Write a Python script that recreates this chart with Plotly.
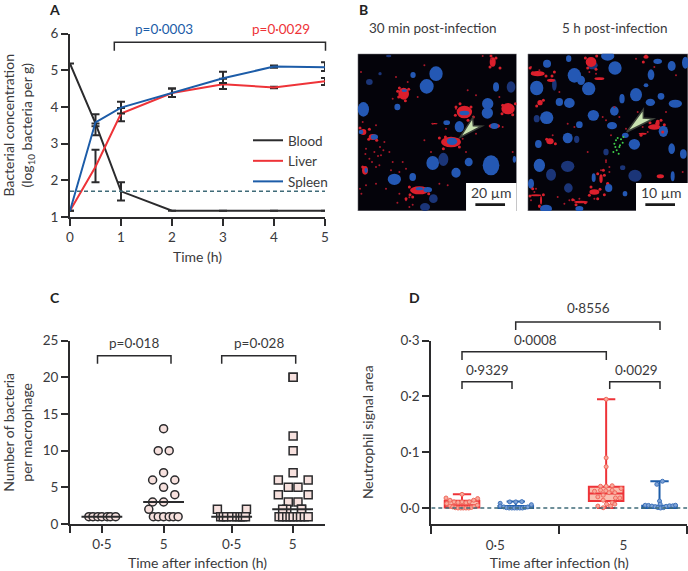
import plotly.graph_objects as go

W, H = 688, 571
FONT = "Lato"
INK = "#2b2b2d"
TXT = "#3a3a3c"
RED = "#ee3338"
BLUE = "#1c5ca8"
DASH = "#3f6b78"

# ---- Panel A
a_time = [0, 0.5, 1, 2, 3, 4, 5]
blood = [5.18, 3.55, 1.7, 1.17, 1.17, 1.17, 1.17]
blood_up = [0, 0, 0.25, 0, 0, 0, 0]
blood_dn = [0, 0.08, 0.25, 0, 0, 0, 0]
liver = [1.17, 2.37, 3.82, 4.38, 4.62, 4.53, 4.7]
liver_up = [0, 0.46, 0.15, 0.12, 0.15, 0.02, 0.09]
liver_dn = [0, 0.42, 0.21, 0.11, 0.13, 0.02, 0.1]
spleen = [1.17, 3.58, 3.98, 4.38, 4.78, 5.1, 5.08]
spleen_up = [0, 0.22, 0.16, 0.12, 0.18, 0.03, 0.14]
spleen_dn = [0, 0.35, 0.16, 0.11, 0.13, 0.03, 0.1]
a_limit = 1.7

# ---- Panel C (swarm offset, value)
c_ticks = [0.125, 0.367, 0.634, 0.873]
c_labels = ["0·5", "5", "0·5", "5"]
c1_dx = [-0.051, -0.035, -0.016, 0.0, 0.021, 0.033, 0.054]
c1_y = [1, 1, 1, 1, 1, 1, 1]
c2_dx = [0, -0.021, 0.022, 0, -0.043, 0.044, 0, 0.044, -0.043, 0, -0.058, -0.04, -0.021, 0, 0.022, 0.038, 0.057]
c2_y = [13, 10, 10, 7, 6, 6, 5, 4, 3, 3, 2, 1, 1, 1, 1, 1, 1]
c3_dx = [-0.056, 0.058, -0.043, -0.033, -0.02, 0, 0.02, 0.033, 0.043, 0.054]
c3_y = [2, 2, 1, 1, 1, 1, 1, 1, 1, 1]
c4_dx = [0.002, 0.002, 0.002, 0.002, 0.002, -0.056, 0.061, -0.017, 0.021, -0.056, 0.061, -0.017, 0.021,
         -0.023, 0.035, -0.039, 0.035, -0.053, -0.039, -0.023, -0.01, 0.002, 0.018, 0.031, 0.046, 0.061]
c4_y = [20, 20, 12, 10, 7, 6, 6, 5, 5, 4, 4, 3, 3, 2, 2, 2, 2, 1, 1, 1, 1, 1, 1, 1, 1, 1]
c_medians = [1, 3, 1, 2]

# ---- Panel D
d_centers = [0.24, 0.66, 1.366, 1.783]
d_q1 = [0.001, 0.0, 0.0125, 0.0]
d_median = [0.005, 0.002, 0.026, 0.0025]
d_q3 = [0.013, 0.0035, 0.038, 0.004]
d_low = [0.0, 0.0, 0.0, 0.0]
d_high = [0.0245, 0.0115, 0.195, 0.048]
d1_dx = [-.125, -.094, -.0625, -.031, 0, 0, .031, .057, .091, .122, -.12, -.094, -.073, -.052, -.031, -.01, .01, .031, .052, .073, .094, .12]
d1_y = [.018, .014, .011, .010, .0245, .011, .0095, .011, .014, .017, .008, .0035, .002, .0006, 0, 0, 0, 0, 0, .001, .0024, .005]
d2_dx = [-.122, -.122, -.047, 0, .047, -.094, -.073, -.052, -.031, -.01, .01, .031, .052, .073, .094, .12, .122]
d2_y = [.0085, .0035, .011, .011, .0115, .002, .0006, 0, 0, 0, 0, 0, 0, .001, .002, .0035, .006]
d3_dx = [0, 0, 0, -.044, 0, .047, -.091, -.044, -.003, .047, .117, -.065, -.023, .023, .068, .107, -.023, .073, .047, .068, .003, -.065, .034, -.023]
d3_y = [.195, .09, .074, .039, .039, .04, .03, .032, .031, .032, .035, .02, .023, .0275, .0275, .018, .014, .018, .0095, .007, .007, .0035, .0035, .0005]
d4_dx = [.023, -.021, 0, .005, -.112, -.086, -.06, -.034, -.013, .008, .031, .052, .078, .104, .125]
d4_y = [.048, .0425, .0125, .007, .005, .0047, .0035, .0024, .0007, 0, .0007, .003, .004, .004, .005]

# ---- Panel B micrographs (image coordinates: centre x, y, radius x, y)
b1_red = [(143, 125, 16, 18), (325, 180, 23, 19), (456, 170, 20, 17), (285, 270, 30, 16), (190, 415, 28, 12),
          (27, 355, 9, 13), (22, 240, 9, 9), (50, 255, 12, 9), (410, 30, 9, 14), (415, 222, 17, 7), (235, 215, 10, 2)]
b1_blue = [(212, 103, 21, 22), (240, 65, 20, 22), (22, 172, 17, 22), (171, 69, 8, 9), (124, 165, 9, 10),
           (395, 155, 17, 17), (394, 183, 17, 17), (420, 105, 9, 14), (272, 212, 10, 7), (310, 224, 14, 17),
           (230, 333, 19, 21), (338, 330, 12, 13), (405, 340, 25, 30), (300, 362, 14, 15), (115, 382, 20, 17),
           (170, 375, 10, 12), (145, 116, 8, 4), (325, 183, 15, 7), (415, 222, 12, 9), (55, 255, 11, 8),
           (288, 268, 16, 11), (215, 413, 13, 8), (190, 410, 11, 5), (475, 322, 5, 10), (30, 355, 5, 8), (15, 240, 7, 7)]
b1_dim = [(40, 90, 10, 9), (72, 65, 5, 5), (465, 105, 13, 17), (262, 322, 15, 20), (232, 440, 13, 13), (207, 465, 15, 12), (98, 12, 8, 4)]
b2_red = [(195, 30, 16, 15), (35, 65, 21, 8), (42, 152, 8, 8), (72, 268, 11, 9), (385, 225, 19, 8), (403, 373, 11, 6),
          (220, 80, 15, 4), (205, 420, 15, 8), (165, 450, 21, 4), (225, 380, 5, 13), (30, 430, 16, 3), (45, 445, 3, 13),
          (245, 395, 5, 5), (350, 245, 12, 3), (75, 85, 12, 5), (360, 15, 8, 5), (395, 212, 6, 9)]
b2_blue = [(63, 35, 12, 12), (128, 20, 8, 10), (245, 12, 20, 14), (267, 48, 20, 20), (145, 70, 20, 22), (188, 110, 20, 20),
           (165, 85, 12, 14), (32, 108, 20, 22), (395, 28, 13, 8), (437, 42, 12, 15), (478, 32, 10, 18), (375, 68, 10, 16),
           (360, 100, 7, 6), (330, 128, 18, 20), (288, 140, 8, 14), (405, 133, 10, 10), (373, 151, 14, 11), (448, 155, 20, 12),
           (100, 150, 11, 12), (130, 153, 16, 15), (62, 197, 20, 19), (202, 190, 17, 16), (265, 177, 13, 14), (160, 218, 10, 10),
           (258, 221, 15, 11), (125, 258, 15, 16), (37, 276, 10, 12), (412, 238, 14, 17), (325, 277, 17, 16), (437, 290, 10, 16),
           (472, 306, 10, 14), (40, 340, 17, 20), (203, 377, 6, 13), (440, 373, 6, 15), (248, 408, 11, 12), (297, 425, 7, 8),
           (60, 470, 18, 12), (160, 470, 12, 8), (15, 395, 9, 15), (298, 250, 10, 8)]
b2_dim = [(85, 98, 7, 18), (32, 200, 9, 11), (152, 262, 8, 11), (240, 300, 8, 10), (125, 343, 20, 17), (75, 368, 15, 18),
          (290, 347, 8, 7), (327, 371, 20, 18), (127, 408, 13, 14), (200, 40, 15, 12)]
b1_specks_x = [205, 120, 155, 110, 60, 30, 15, 85, 100, 75, 40, 20, 70, 110, 130, 150, 160, 150, 185, 205, 270, 230, 300, 360, 430, 440, 405, 380, 470, 330, 360, 225, 250, 275, 335, 55, 90, 60, 30, 140, 320, 150, 130, 60, 105, 72, 82, 48, 66, 28, 12, 16, 124, 160, 170]
b1_specks_y = [40, 75, 90, 140, 220, 290, 60, 270, 300, 310, 320, 210, 340, 330, 360, 440, 465, 350, 135, 265, 230, 215, 170, 130, 135, 225, 22, 12, 300, 300, 245, 300, 395, 400, 115, 300, 410, 395, 400, 330, 260, 445, 425, 345, 355, 285, 295, 330, 312, 306, 410, 425, 452, 436, 458]
b1_fringe_x = [130, 128, 158, 148, 125, 300, 298, 345, 352, 336, 312, 440, 438, 478, 470, 250, 262, 310, 306, 268, 160, 162, 218, 170, 150, 405, 420, 402, 432, 12, 38, 40, 62, 20]
b1_fringe_y = [108, 135, 112, 146, 118, 165, 190, 165, 195, 205, 155, 160, 185, 155, 188, 258, 290, 285, 262, 255, 405, 428, 425, 435, 440, 12, 18, 45, 48, 228, 262, 232, 265, 345]
b2_specks_x = [15, 40, 100, 230, 240, 210, 190, 265, 335, 340, 350, 365, 470, 125, 145, 185, 240, 250, 115, 160, 95, 225, 205, 180, 145, 130, 250, 80, 25, 40, 15, 30, 280, 300, 385, 450, 240, 330, 255, 420]
b2_specks_y = [45, 55, 120, 195, 205, 65, 60, 165, 180, 195, 225, 240, 360, 215, 225, 300, 325, 345, 455, 440, 435, 355, 440, 450, 445, 445, 360, 250, 420, 465, 445, 410, 195, 230, 45, 70, 330, 20, 250, 180]
b2_fringe_x = [178, 212, 185, 210, 12, 60, 78, 85, 20, 32, 52, 62, 88, 372, 405, 410, 345, 392, 415, 190, 222, 235, 215, 195, 140, 150, 178, 20, 12, 40, 52, 235, 215, 232, 360, 352]
b2_fringe_y = [18, 12, 48, 52, 48, 72, 72, 60, 62, 162, 145, 262, 275, 212, 205, 240, 250, 215, 218, 430, 412, 428, 440, 405, 443, 458, 452, 410, 432, 462, 428, 370, 365, 355, 12, 30]
b2_green_x = [265, 270, 275, 280, 285, 290, 272, 262, 282, 268, 278, 292]
b2_green_y = [275, 265, 258, 285, 262, 272, 295, 300, 280, 285, 305, 255]


def fx(p):
    return p / W


def fy(p):
    return 1 - p / H


fig = go.Figure()

tick = dict(size=13.5, family=FONT, color=TXT)
title_f = dict(size=14, family=FONT, color=TXT)


def axis(dom, rng, **kw):
    d = dict(domain=dom, range=rng, showgrid=False, zeroline=False, showline=True, linecolor=INK, linewidth=2,
             ticks="outside", tickcolor=INK, tickwidth=2, ticklen=7, tickfont=tick, title_font=title_f)
    d.update(kw)
    return d


def hidden(dom, rng):
    return dict(domain=dom, range=rng, visible=False, showgrid=False, zeroline=False)


lay = dict(
    xaxis=axis([fx(70), fx(325)], [0, 5], tickvals=[0, 1, 2, 3, 4, 5], title=dict(text="Time (h)", standoff=8), anchor="y"),
    yaxis=axis([fy(217), fy(33.5)], [1, 6], tickvals=[1, 2, 3, 4, 5, 6], anchor="x",
               title=dict(text="Bacterial concentration<br>(log<sub>10</sub> bacteria per g)", standoff=16)),
    xaxis2=axis([fx(70), fx(325)], [0, 1], tickvals=c_ticks, ticktext=c_labels, anchor="y2",
                minor=dict(tickvals=[0], ticks="outside", ticklen=7, tickwidth=2, tickcolor=INK),
                title=dict(text="Time after infection (h)", standoff=8)),
    yaxis2=axis([fy(524), fy(340.7)], [0, 25], tickvals=[0, 5, 10, 15, 20, 25], anchor="x2",
                title=dict(text="Number of bacteria<br>per macrophage", standoff=9)),
    xaxis3=axis([fx(431.3), fx(687.3)], [0, 2], tickvals=[0.5, 1.5], ticktext=["0·5", "5"], anchor="y3",
                tickcolor="rgba(0,0,0,0)", ticklen=8,
                minor=dict(tickvals=[0, 1, 2], ticks="outside", ticklen=8, tickwidth=2, tickcolor=INK),
                title=dict(text="Time after infection (h)", standoff=8)),
    yaxis3=axis([fy(523.7), fy(340.7)], [-0.0281, 0.3], tickvals=[0, 0.1, 0.2, 0.3],
                ticktext=["0·0", "0·1", "0·2", "0·3"], anchor="x3",
                title=dict(text="Neutrophil signal area", standoff=24)),
    xaxis4=hidden([fx(357.7), fx(516.7)], [5, 482]),
    yaxis4=hidden([fy(211), fy(53.7)], [477, 5]),
    xaxis5=hidden([fx(527.7), fx(688)], [5, 486]),
    yaxis5=hidden([fy(211), fy(53.7)], [477, 5]),
)


# Panel A
def err(up, dn):
    return dict(type="data", symmetric=False, array=up, arrayminus=dn, color=INK, thickness=2, width=4)


for name, yv, up, dn, col in [("Blood", blood, blood_up, blood_dn, INK), ("Liver", liver, liver_up, liver_dn, RED),
                              ("Spleen", spleen, spleen_up, spleen_dn, BLUE)]:
    fig.add_trace(go.Scatter(x=a_time, y=yv, mode="lines", name=name, line=dict(color=col, width=2),
                             error_y=err(up, dn), xaxis="x", yaxis="y", cliponaxis=False))
fig.add_trace(go.Scatter(x=[0, 5], y=[a_limit, a_limit], mode="lines", showlegend=False,
                         line=dict(color=DASH, width=1.5, dash="4px,3px"), xaxis="x", yaxis="y"))

# Panel C
MFILL = "#f7e1de"
c_sets = [(c1_dx, c1_y, "circle"), (c2_dx, c2_y, "circle"), (c3_dx, c3_y, "square"), (c4_dx, c4_y, "square")]
for c, (dx, yv, sym), med in zip(c_ticks, c_sets, c_medians):
    fig.add_trace(go.Scatter(x=[c + d for d in dx], y=yv, mode="markers", showlegend=False, xaxis="x2", yaxis="y2",
                             cliponaxis=False,
                             marker=dict(symbol=sym, size=8, color=MFILL, line=dict(color=INK, width=1.5))))
    fig.add_trace(go.Scatter(x=[c - 0.08, c + 0.08], y=[med, med], mode="lines", showlegend=False, xaxis="x2",
                             yaxis="y2", cliponaxis=False, line=dict(color=INK, width=2)))

# Panel D
box_fill = ["rgba(248,170,150,0.75)", "rgba(120,160,215,0.7)"]
box_col = [RED, BLUE]
d_sets = [(d1_dx, d1_y), (d2_dx, d2_y), (d3_dx, d3_y), (d4_dx, d4_y)]
for i, c in enumerate(d_centers):
    k = i % 2
    fig.add_trace(go.Box(x=[c], q1=[d_q1[i]], median=[d_median[i]], q3=[d_q3[i]], lowerfence=[d_low[i]],
                         upperfence=[d_high[i]], width=0.27, whiskerwidth=0.53, fillcolor=box_fill[k],
                         line=dict(color=box_col[k], width=2), showlegend=False, xaxis="x3", yaxis="y3", boxpoints=False))
    fig.add_trace(go.Scatter(x=[c + d for d in d_sets[i][0]], y=d_sets[i][1], mode="markers", showlegend=False,
                             xaxis="x3", yaxis="y3", cliponaxis=False,
                             marker=dict(size=4, color=["#f9a99c", "#7fa3d6"][k],
                                         line=dict(color=["#f0695c", "#3f73bb"][k], width=1))))
fig.add_trace(go.Scatter(x=[0, 2], y=[0, 0], mode="lines", showlegend=False, xaxis="x3", yaxis="y3",
                         line=dict(color=DASH, width=1.5, dash="4px,3px")))

# Panel B specks
fig.add_trace(go.Scatter(x=b1_specks_x, y=b1_specks_y, mode="markers", showlegend=False, xaxis="x4", yaxis="y4",
                         marker=dict(size=2, color="#a8182a")))
fig.add_trace(go.Scatter(x=b2_specks_x, y=b2_specks_y, mode="markers", showlegend=False, xaxis="x5", yaxis="y5",
                         marker=dict(size=2, color="#a8182a")))
fig.add_trace(go.Scatter(x=b1_fringe_x, y=b1_fringe_y, mode="markers", showlegend=False, xaxis="x4", yaxis="y4",
                         marker=dict(size=3, color="#d8202c")))
fig.add_trace(go.Scatter(x=b2_fringe_x, y=b2_fringe_y, mode="markers", showlegend=False, xaxis="x5", yaxis="y5",
                         marker=dict(size=3, color="#d8202c")))
fig.add_trace(go.Scatter(x=b2_green_x, y=b2_green_y, mode="markers", showlegend=False, xaxis="x5", yaxis="y5",
                         marker=dict(size=2, color="#3fd04a")))

shapes = []


def ell(ax, ay, e, col):
    cx, cy, rx, ry = e
    shapes.append(dict(type="circle", xref=ax, yref=ay, x0=cx - rx, x1=cx + rx, y0=cy - ry, y1=cy + ry,
                       fillcolor=col, line=dict(width=0), layer="below"))


BORDER = "#9a9aa0"
for ax, ay, xr, red, blue, dim in [("x4", "y4", (5, 482), b1_red, b1_blue, b1_dim), ("x5", "y5", (5, 486), b2_red, b2_blue, b2_dim)]:
    shapes.append(dict(type="rect", xref=ax, yref=ay, x0=xr[0], x1=xr[1], y0=5, y1=477, fillcolor="#04030a",
                       line=dict(width=1, color=BORDER), layer="below"))
    for e in dim:
        ell(ax, ay, e, "#1b3578")
    for e in red:
        ell(ax, ay, e, "#dc1f2c")
    for e in blue:
        ell(ax, ay, e, "#2458b4")
    shapes.append(dict(type="rect", xref=ax, yref=ay, x0=330, x1=xr[1], y0=393, y1=477, fillcolor="white",
                       line=dict(width=0), layer="above"))
    shapes.append(dict(type="rect", xref=ax, yref=ay, x0=358, x1=447, y0=454, y1=462, fillcolor="#1a1a1a",
                       line=dict(width=0), layer="above"))
shapes.append(dict(type="path", xref="x4", yref="y4", path="M 312 256 L 350 197 L 352 221 L 378 222 Z",
                   fillcolor="#c9e2b0", line=dict(color="#3a3f38", width=1.5), layer="above"))
shapes.append(dict(type="path", xref="x5", yref="y5", path="M 302 240 L 352 172 L 352 198 L 382 200 Z",
                   fillcolor="#c9e2b0", line=dict(color="#3a3f38", width=1.5), layer="above"))


# brackets, in page pixels
def bracket(x0, x1, top, bottom):
    shapes.append(dict(type="path", xref="paper", yref="paper",
                       path=f"M {fx(x0)} {fy(bottom)} L {fx(x0)} {fy(top)} L {fx(x1)} {fy(top)} L {fx(x1)} {fy(bottom)}",
                       line=dict(color=INK, width=1.5), layer="above"))


for b in [(114.3, 325.5, 42.3, 50.7), (97.5, 171, 355.7, 363.7), (221.7, 295.7, 355.7, 363.7),
          (515.7, 660, 322, 330), (462, 606.3, 351.7, 360), (462, 512, 381.7, 389), (609.7, 660, 381.7, 389)]:
    bracket(*b)

notes = []


def note(text, x, y, size=13.5, color=TXT, bold=False):
    if bold:
        text = f"<b>{text}</b>"
    notes.append(dict(text=text, x=fx(x), y=fy(y), xref="paper", yref="paper", showarrow=False, xanchor="center",
                      yanchor="middle", font=dict(family=FONT, size=size, color=color)))


for t, x, y in [("A", 54, 9), ("B", 363, 9), ("C", 55, 297), ("D", 414, 297)]:
    note(t, x, y, size=14, color="#222", bold=True)
note("p=0·0003", 164, 29, color=BLUE)
note("p=0·0029", 281, 29, color=RED)
note("30 min post-infection", 433, 28)
note("5 h post-infection", 614, 28)
note("20 µm", 491, 192, size=14)
note("10 µm", 661, 192, size=14)
note("p=0·018", 134, 343)
note("p=0·028", 259, 343)
note("0·8556", 588, 308)
note("0·0008", 535, 340)
note("0·9329", 487, 370)
note("0·0029", 636, 370)

fig.update_layout(width=W, height=H, autosize=False, margin=dict(l=0, r=0, t=0, b=0, autoexpand=False), paper_bgcolor="white",
                  plot_bgcolor="white", font=dict(family=FONT, color=TXT), shapes=shapes, annotations=notes,
                  legend=dict(x=fx(248), y=fy(125), xanchor="left", yanchor="top", bgcolor="rgba(0,0,0,0)",
                              font=dict(size=13.5, family=FONT, color=TXT), tracegroupgap=0, itemclick=False),
                  **lay)
fig.write_html("out.html", post_script="document.body.style.margin='0';", config={"displayModeBar": False})
